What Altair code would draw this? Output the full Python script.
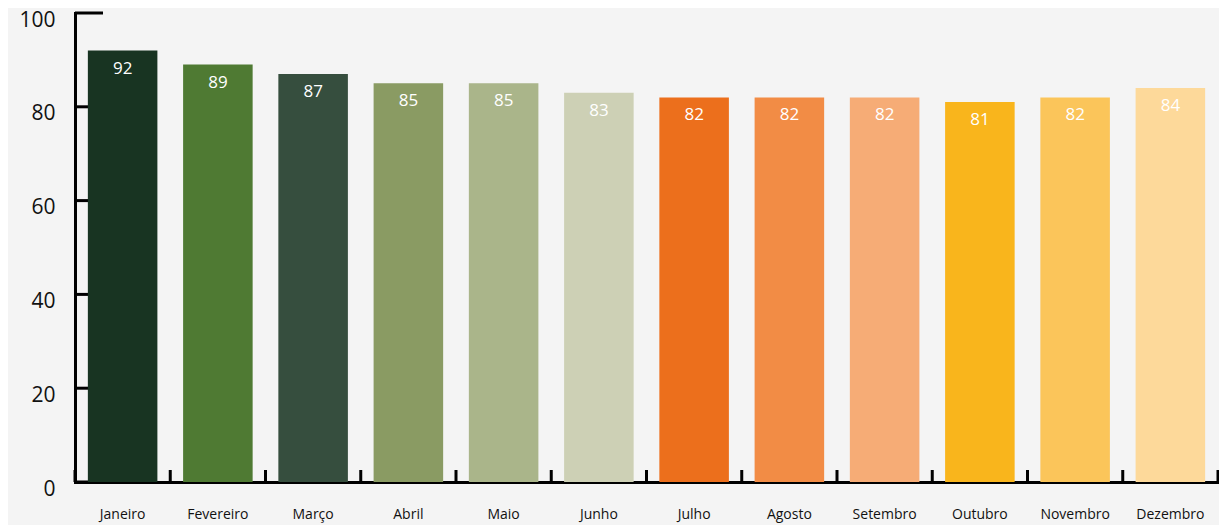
import altair as alt
import pandas as pd

months = ["Janeiro", "Fevereiro", "Março", "Abril", "Maio", "Junho",
          "Julho", "Agosto", "Setembro", "Outubro", "Novembro", "Dezembro"]
values = [92, 89, 87, 85, 85, 83, 82, 82, 82, 81, 82, 84]
colors = ["#183422", "#4f7a33", "#364e3e", "#8a9b63", "#aab58a", "#cdd0b5",
          "#ec6f1c", "#f28c45", "#f6ac76", "#f9b51c", "#fbc55a", "#fdd99a"]
y_ticks = [0, 20, 40, 60, 80, 100]

df = pd.DataFrame({"mes": months, "valor": values})
ticks_df = pd.DataFrame({"t": y_ticks})

FONT = "Open Sans"
W, H = 1143, 469
P_IN, P_OUT = 0.27, 0.135
xscale = alt.Scale(domain=months, paddingInner=P_IN, paddingOuter=P_OUT)
yscale = alt.Scale(domain=[0, 100], nice=False)
step = W / len(months)
edge_px = step * P_IN / 2

x_enc = alt.X("mes:N", scale=xscale, sort=months,
              axis=alt.Axis(title=None, ticks=False, labelAngle=0, labelFontSize=14,
                            labelFont=FONT, labelColor="#111111", labelPadding=25,
                            domainColor="#000000", domainWidth=3, labelBaseline="top"))
y_enc = alt.Y("valor:Q", scale=yscale,
              axis=alt.Axis(title=None, ticks=False, values=y_ticks, grid=False,
                            labelFontSize=21, labelFont=FONT, labelColor="#111111",
                            labelPadding=20, labelOffset=7,
                            domainColor="#000000", domainWidth=3))

ytick_layer = alt.Chart(ticks_df).mark_rule(color="#000000", strokeWidth=3).encode(
    y=alt.Y("t:Q", scale=yscale),
    x=alt.value(0), x2=alt.value(28)
)

bars = alt.Chart(df).mark_bar().encode(
    x=x_enc, y=y_enc,
    color=alt.Color("mes:N", scale=alt.Scale(domain=months, range=colors), legend=None)
)

labels = alt.Chart(df).mark_text(color="white", fontSize=17, font=FONT,
                                 baseline="middle", dy=18).encode(
    x=alt.X("mes:N", scale=xscale, sort=months),
    y=alt.Y("valor:Q", scale=yscale),
    text="valor:Q"
)

xtick_left = alt.Chart(df).mark_rule(color="#000000", strokeWidth=3, xOffset=-edge_px).encode(
    x=alt.X("mes:N", scale=xscale, sort=months, bandPosition=0),
    y=alt.value(H), y2=alt.value(H - 12)
)
xtick_right = alt.Chart(df).transform_filter(
    alt.datum.mes == months[-1]
).mark_rule(color="#000000", strokeWidth=3, xOffset=edge_px).encode(
    x=alt.X("mes:N", scale=xscale, sort=months, bandPosition=1),
    y=alt.value(H), y2=alt.value(H - 12)
)

chart = alt.layer(ytick_layer, bars, labels, xtick_left, xtick_right).properties(
    width=W, height=H,
    autosize=alt.AutoSizeParams(type="none"),
    padding={"left": 67, "top": 5, "right": 1, "bottom": 43},
    background="#f4f4f4"
).configure_view(stroke=None).configure_axis(domainCap="square")

chart.save("out.html", embed_options={"renderer": "svg", "actions": False})
